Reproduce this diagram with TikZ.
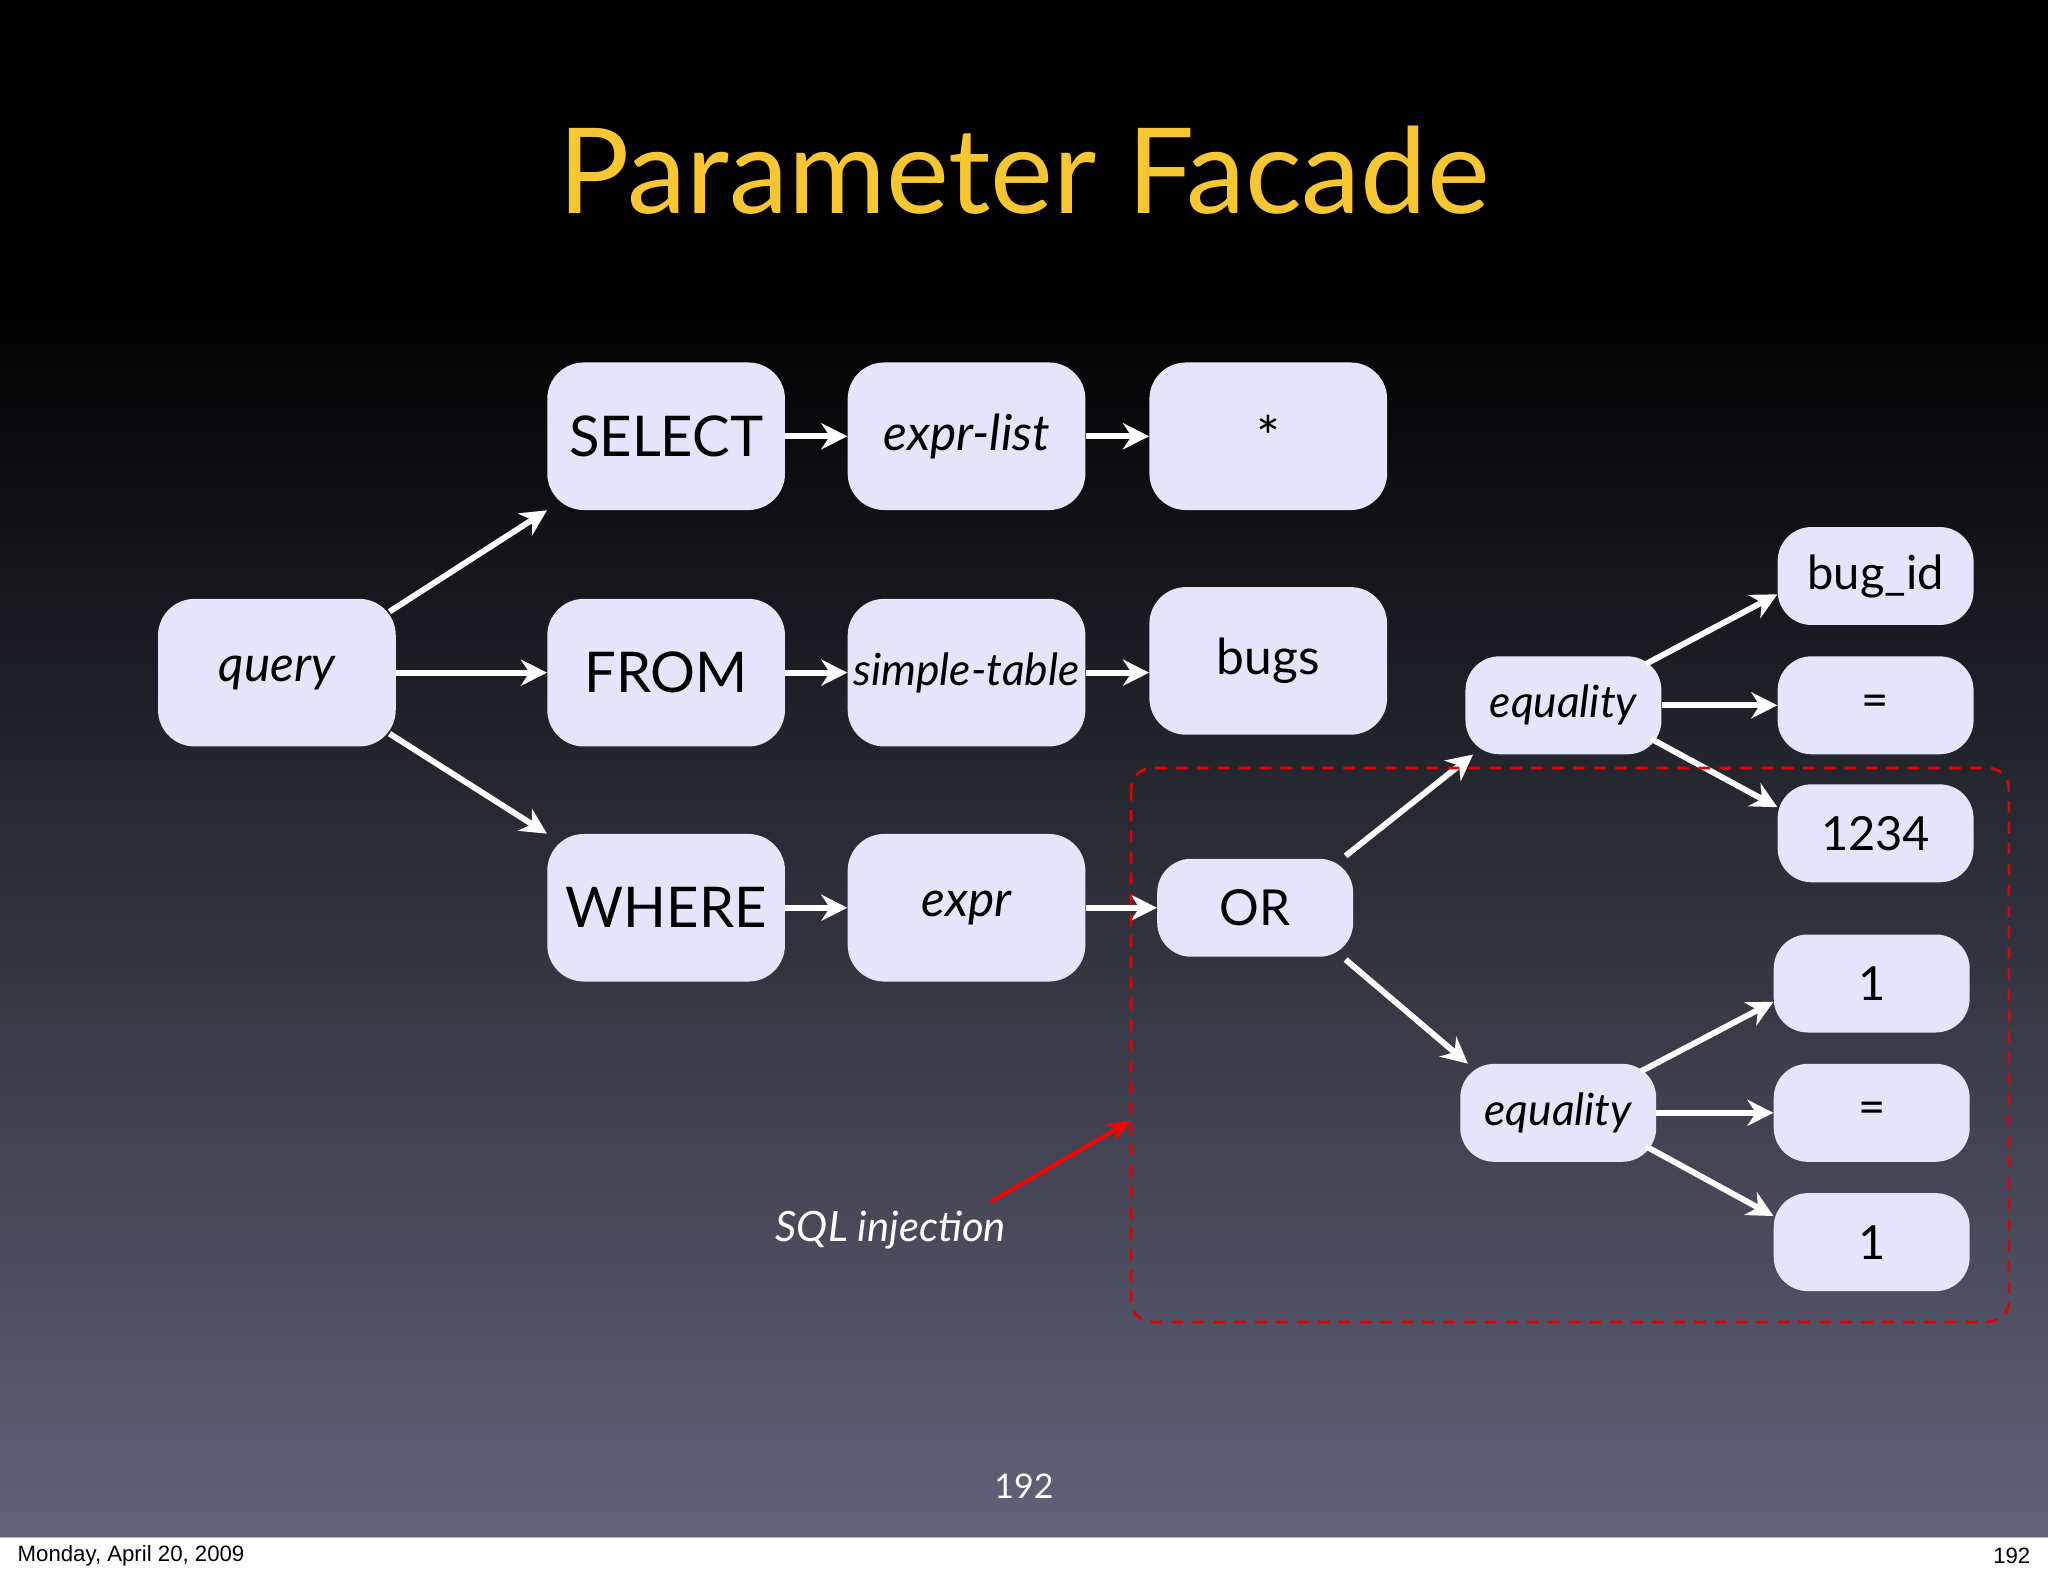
\documentclass[tikz,border=0pt]{standalone}
\usepackage{fontspec}
\setmainfont{Lato}
\newfontfamily\footfont{Liberation Sans}
\usetikzlibrary{arrows.meta}
\definecolor{titlec}{HTML}{F7C631}
\definecolor{boxc}{HTML}{E4E4FA}
\definecolor{bgbot}{HTML}{62627A}
\begin{document}
\begin{tikzpicture}[x=1pt,y=-1pt,
  bx/.style={draw=none,fill=boxc,rounded corners=28pt,minimum width=182pt,minimum height=113pt,inner sep=0pt,text=black,font=\fontsize{43}{47}\selectfont},
  sb/.style={draw=none,fill=boxc,rounded corners=26pt,minimum width=150pt,minimum height=75pt,inner sep=0pt,text=black,font=\fontsize{36}{40}\selectfont},
  it/.style={font=\fontsize{38}{42}\selectfont\itshape},
  arr/.style={draw=white,line width=4.5pt,-{Stealth[length=20pt,width=20pt]}}]
\useasboundingbox (0,0) rectangle (1568,1207);
\fill[black] (0,0) rectangle (1568,230);
\shade[top color=black,bottom color=bgbot] (0,230) rectangle (1568,1177);
\fill[white] (0,1177) rectangle (1568,1207);
\draw[gray!60] (0,1177) -- (1568,1177);
\node[text=titlec,font=\fontsize{91}{94}\selectfont] (title) at (784,130) {Parameter Facade};
\node[bx,it] (query) at (212,515) {query};
\node[bx] (select) at (510,334) {SELECT};
\node[bx,it] (exprlist) at (740,334) {expr-list};
\node[bx] (star) at (971,334) {*};
\node[bx] (from) at (510,515) {FROM};
\node[bx,it,font=\fontsize{34}{38}\selectfont\itshape] (stable) at (740,515) {simple-table};
\node[bx,font=\fontsize{38}{42}\selectfont] (bugs) at (971,506) {bugs};
\node[bx] (where) at (510,695) {WHERE};
\node[bx,it] (expr) at (740,695) {expr};
\node[sb,font=\fontsize{38}{42}\selectfont] (or) at (961,695) {OR};
\node[sb,it,font=\fontsize{34}{38}\selectfont\itshape] (eq1) at (1197,540) {equality};
\node[sb,it,font=\fontsize{34}{38}\selectfont\itshape] (eq2) at (1193,852) {equality};
\node[sb] (bugid) at (1436,441) {bug\_id};
\node[sb] (e1) at (1436,540) {=};
\node[sb] (n1234) at (1436,638) {1234};
\node[sb] (o1) at (1433,753) {1};
\node[sb] (e2) at (1433,852) {=};
\node[sb] (o2) at (1433,951) {1};
\draw[arr] (query.north east) ++(-5,10) coordinate (qa) -- (select.south west);
\draw[arr] (query.east) -- (from.west);
\draw[arr] (query.south east) ++(-5,-10) coordinate (qb) -- (where.north west);
\draw[arr] (select) -- (exprlist);
\draw[arr] (exprlist) -- (star);
\draw[arr] (from) -- (stable);
\draw[arr] (stable.east) -- (bugs.west |- stable.east);
\draw[arr] (where) -- (expr);
\draw[arr] (expr) -- (or);
\draw[arr] (or.north east) ++(-6,-2) coordinate (oa) -- ([xshift=6pt]eq1.south west);
\draw[arr] (or.south east) ++(-6,2) coordinate (ob) -- ([xshift=6pt]eq2.north west);
\draw[arr] ([xshift=-12pt,yshift=-6pt]eq1.north east) -- ([yshift=-14pt]bugid.west);
\draw[arr] (eq1) -- (e1);
\draw[arr] ([xshift=-8pt,yshift=12pt]eq1.south east) -- ([yshift=20pt]n1234.west);
\draw[arr] ([xshift=-12pt,yshift=-6pt]eq2.north east) -- ([yshift=-14pt]o1.west);
\draw[arr] (eq2) -- (e2);
\draw[arr] ([xshift=-8pt,yshift=12pt]eq2.south east) -- ([yshift=20pt]o2.west);
\draw[red!90!black,line width=2pt,dash pattern=on 9pt off 7pt,rounded corners=16pt] (866,588) rectangle (1538,1012);
\node[text=white,font=\fontsize{32}{36}\selectfont\itshape] (sql) at (682,942) {SQL injection};
\coordinate (sqlt) at (866,858);
\draw[red,line width=3pt,-{Stealth[length=18pt,width=14pt]}] (sql.north east) ++(-15,-4) -- (sqlt);
\node[text=white,font=\fontsize{26}{30}\selectfont] (pg) at (784,1138) {192};
\node[anchor=west,font=\footfont\fontsize{17}{20}\selectfont] (date) at (10,1191) {Monday, April 20, 2009};
\node[anchor=east,font=\footfont\fontsize{17}{20}\selectfont] (pn) at (1558,1191) {192};
\end{tikzpicture}
\end{document}
